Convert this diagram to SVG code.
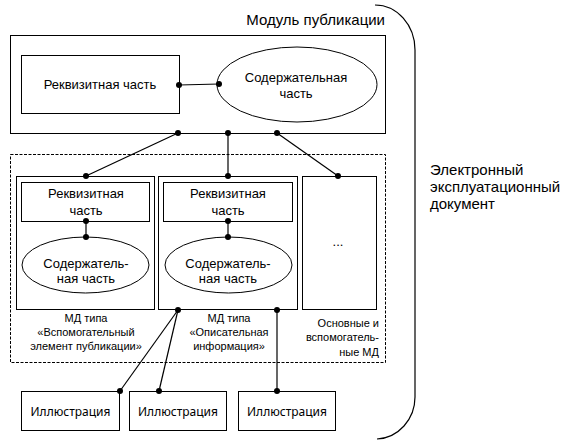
<svg xmlns="http://www.w3.org/2000/svg" width="572" height="446" viewBox="0 0 572 446">
<style>
.box{fill:#fff;stroke:#000;stroke-width:1}
.dash{fill:none;stroke:#000;stroke-width:1;stroke-dasharray:3,1.5}
.ln{fill:none;stroke:#000;stroke-width:1.2}
.dot{fill:#000}
text{font-family:"Liberation Sans",Arial,sans-serif;fill:#000;text-anchor:middle}
.t13{font-size:13px}
.t15{font-size:15px}
.t11{font-size:11px}
.ill{font-family:"Noto Sans","Liberation Sans",sans-serif;font-size:12px}
</style>
<rect width="572" height="446" fill="#fff"/>
<g id="doc">
<path class="ln" d="M375,5 A40,45 0 0 1 415,50 V397 A40,42 0 0 1 377,439" stroke-width="1"/>
<text class="t15" x="430" y="175" style="text-anchor:start">Электронный</text>
<text class="t15" x="430" y="192" style="text-anchor:start">эксплуатационный</text>
<text class="t15" x="430" y="209" style="text-anchor:start">документ</text>
</g>
<g id="pm">
<text class="t15" x="385" y="25" style="text-anchor:end">Модуль публикации</text>
<rect class="box" x="10.5" y="35.5" width="375" height="98"/>
</g>
<g id="pm-req">
<rect class="box" x="21.5" y="55.5" width="158" height="58"/>
<text class="t13" x="100" y="89">Реквизитная часть</text>
</g>
<g id="pm-cont">
<ellipse class="box" cx="297" cy="84.5" rx="80" ry="37.5"/>
<text class="t13" x="296" y="82">Содержательная</text>
<text class="t13" x="296" y="98">часть</text>
</g>
<g id="mds">
<rect class="dash" x="10.5" y="154.5" width="375" height="208"/>
</g>
<g id="md1">
<rect class="box" x="16.5" y="176.5" width="138" height="133"/>
<rect class="box" x="21.5" y="182.5" width="128" height="39"/>
<text class="t13" x="86" y="198">Реквизитная</text>
<text class="t13" x="86" y="215">часть</text>
<ellipse class="box" cx="85.5" cy="265" rx="63.5" ry="28"/>
<text class="t13" x="86" y="268">Содержатель-</text>
<text class="t13" x="86" y="283">ная часть</text>
<text class="t11" x="86" y="322">МД типа</text>
<text class="t11" x="86" y="336">«Вспомогательный</text>
<text class="t11" x="86" y="350">элемент публикации»</text>
</g>
<g id="md2">
<rect class="box" x="158.5" y="176.5" width="139" height="133"/>
<rect class="box" x="163.5" y="182.5" width="129" height="39"/>
<text class="t13" x="228" y="198">Реквизитная</text>
<text class="t13" x="228" y="215">часть</text>
<ellipse class="box" cx="228.5" cy="265" rx="63.5" ry="28"/>
<text class="t13" x="228" y="268">Содержатель-</text>
<text class="t13" x="228" y="283">ная часть</text>
<text class="t11" x="229" y="322">МД типа</text>
<text class="t11" x="229" y="336">«Описательная</text>
<text class="t11" x="229" y="350">информация»</text>
</g>
<g id="md3">
<rect class="box" x="302.5" y="176.5" width="74" height="133"/>
<text class="t13" x="338" y="246">...</text>
<text class="t11" x="379" y="327" style="text-anchor:end">Основные и</text>
<text class="t11" x="379" y="341" style="text-anchor:end">вспомогатель-</text>
<text class="t11" x="379" y="356" style="text-anchor:end">ные МД</text>
</g>
<g id="ill1">
<rect class="box" x="21.5" y="391.5" width="98" height="39"/>
<text class="ill" x="70.5" y="416">Иллюстрация</text>
</g>
<g id="ill2">
<rect class="box" x="129.5" y="391.5" width="97" height="39"/>
<text class="ill" x="178" y="416">Иллюстрация</text>
</g>
<g id="ill3">
<rect class="box" x="238.5" y="391.5" width="97" height="39"/>
<text class="ill" x="287" y="416">Иллюстрация</text>
</g>
<g id="connectors">
<path class="ln" d="M179,85 L219,84"/>
<path class="ln" d="M178,133 L86,176"/>
<path class="ln" d="M228,133 L228,176"/>
<path class="ln" d="M277,133 L338,176"/>
<path class="ln" d="M86,221 L86,237"/>
<path class="ln" d="M228,221 L228,237"/>
<path class="ln" d="M178,310 L120,391"/>
<path class="ln" d="M178,310 L159,391"/>
<path class="ln" d="M277,310 L277,391"/>
<circle class="dot" cx="179" cy="85" r="3"/>
<circle class="dot" cx="219" cy="84" r="3"/>
<circle class="dot" cx="178" cy="133" r="3"/>
<circle class="dot" cx="228" cy="133" r="3"/>
<circle class="dot" cx="277" cy="133" r="3"/>
<circle class="dot" cx="86" cy="176" r="3"/>
<circle class="dot" cx="228" cy="176" r="3"/>
<circle class="dot" cx="338" cy="176" r="3"/>
<circle class="dot" cx="86" cy="221" r="3"/>
<circle class="dot" cx="86" cy="237" r="3"/>
<circle class="dot" cx="228" cy="221" r="3"/>
<circle class="dot" cx="228" cy="237" r="3"/>
<circle class="dot" cx="178" cy="310" r="3"/>
<circle class="dot" cx="277" cy="310" r="3"/>
<circle class="dot" cx="120" cy="391" r="3"/>
<circle class="dot" cx="159" cy="391" r="3"/>
<circle class="dot" cx="277" cy="391" r="3"/>
</g>
</svg>
